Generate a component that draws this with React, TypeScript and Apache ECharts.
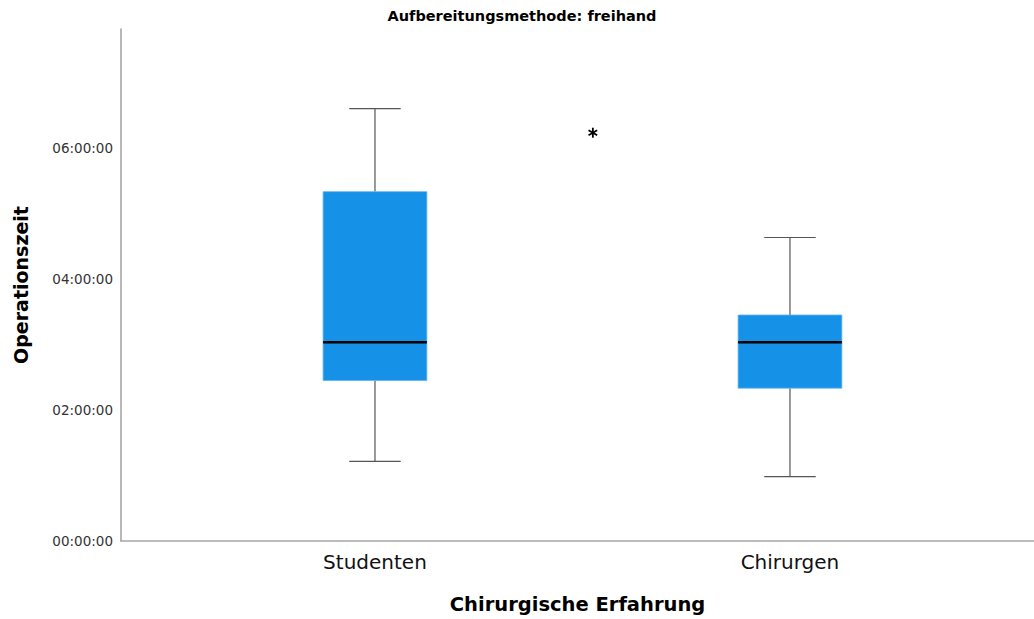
import React, { useEffect, useRef } from "react";
import * as echarts from "echarts";

// Groups along the x axis and their positions on the value scale
const categories = ["Studenten", "Chirurgen"];
const categoryPos = [0, 1];

// Box statistics per group, in seconds: [min, Q1, median, Q3, max]
const studentenStats = [4380, 8820, 10920, 19200, 23760];
const chirurgenStats = [3540, 8400, 10920, 12420, 16680];

// Extreme value (drawn as an asterisk): [x position, seconds]
const extremes = [[0.525, 22440]];

// Y-axis ticks every two hours
const yInterval = 7200;
const yMax = 28140;

const FONT = "'DejaVu Sans', 'Noto Sans', sans-serif";
const BOX_COLOR = "#1591E8";
const BOX_WIDTH = 0.25;
const CAP_WIDTH = 0.124;

function fmtTime(sec: number): string {
  const h = Math.floor(sec / 3600);
  const m = Math.floor((sec % 3600) / 60);
  const s = Math.floor(sec % 60);
  const p = (n: number) => String(n).padStart(2, "0");
  return `${p(h)}:${p(m)}:${p(s)}`;
}

export default function App() {
  const ref = useRef<HTMLDivElement>(null);

  useEffect(() => {
    if (!ref.current) return;
    const chart = echarts.init(ref.current, undefined, { renderer: "svg" });

    const boxData = [
      [categoryPos[0], ...studentenStats],
      [categoryPos[1], ...chirurgenStats],
    ];

    const whiskerStyle = { stroke: "#555555", lineWidth: 1.2 };

    chart.setOption({
      animation: false,
      backgroundColor: "#ffffff",
      graphic: [
        {
          type: "text",
          x: 522,
          y: 16,
          style: {
            text: "Aufbereitungsmethode: freihand",
            font: `bold 14.5px ${FONT}`,
            fill: "#000000",
            align: "center",
            verticalAlign: "middle",
          },
        },
      ],
      grid: { left: 121, right: 0, top: 29, bottom: 78 },
      xAxis: {
        type: "value",
        min: -0.612,
        max: 1.588,
        name: "Chirurgische Erfahrung",
        nameLocation: "middle",
        nameGap: 53,
        nameTextStyle: { fontFamily: FONT, fontSize: 19.5, fontWeight: "bold", color: "#000" },
        axisLine: { onZero: false, lineStyle: { color: "#a6a6a6", width: 1.6 } },
        axisTick: { show: false },
        splitLine: { show: false },
        axisLabel: {
          customValues: categoryPos,
          formatter: (v: number) => categories[Math.round(v)] ?? "",
          fontFamily: FONT,
          fontSize: 20,
          color: "#111",
          margin: 11,
        },
      },
      yAxis: {
        type: "value",
        min: 0,
        max: yMax,
        interval: yInterval,
        name: "Operationszeit",
        nameLocation: "middle",
        nameGap: 91,
        nameRotate: 90,
        nameTextStyle: { fontFamily: FONT, fontSize: 19, fontWeight: "bold", color: "#000" },
        axisLine: { show: true, onZero: false, lineStyle: { color: "#a6a6a6", width: 1.6 } },
        axisTick: { show: false },
        splitLine: { show: false },
        axisLabel: {
          formatter: (v: number) => fmtTime(v),
          showMaxLabel: false,
          fontFamily: FONT,
          fontSize: 13.5,
          color: "#333",
          margin: 8,
        },
      },
      series: [
        {
          type: "custom",
          name: "Operationszeit",
          data: boxData,
          encode: { x: 0, y: [1, 2, 3, 4, 5] },
          renderItem: (_params: any, api: any) => {
            const x = api.value(0);
            const lo = api.coord([x, api.value(1)]);
            const q1 = api.coord([x, api.value(2)]);
            const med = api.coord([x, api.value(3)]);
            const q3 = api.coord([x, api.value(4)]);
            const hi = api.coord([x, api.value(5)]);
            const boxW = api.size([BOX_WIDTH, 0])[0];
            const capW = api.size([CAP_WIDTH, 0])[0];
            const cx = lo[0];
            return {
              type: "group",
              children: [
                { type: "line", shape: { x1: cx, y1: q3[1], x2: cx, y2: hi[1] }, style: whiskerStyle },
                { type: "line", shape: { x1: cx, y1: q1[1], x2: cx, y2: lo[1] }, style: whiskerStyle },
                { type: "line", shape: { x1: cx - capW / 2, y1: hi[1], x2: cx + capW / 2, y2: hi[1] }, style: whiskerStyle },
                { type: "line", shape: { x1: cx - capW / 2, y1: lo[1], x2: cx + capW / 2, y2: lo[1] }, style: whiskerStyle },
                {
                  type: "rect",
                  shape: { x: cx - boxW / 2, y: q3[1], width: boxW, height: q1[1] - q3[1] },
                  style: { fill: BOX_COLOR, stroke: "#5FB2F0", lineWidth: 0.8 },
                },
                {
                  type: "line",
                  shape: { x1: cx - boxW / 2, y1: med[1], x2: cx + boxW / 2, y2: med[1] },
                  style: { stroke: "#000000", lineWidth: 2.6 },
                },
              ],
            };
          },
        },
        {
          type: "custom",
          name: "Extremwerte",
          data: extremes,
          encode: { x: 0, y: 1 },
          renderItem: (_params: any, api: any) => {
            const p = api.coord([api.value(0), api.value(1)]);
            const r = 5;
            const st = { stroke: "#000000", lineWidth: 1.8 };
            const spokes = [90, 30, 150].map((deg) => {
              const a = (deg * Math.PI) / 180;
              return {
                type: "line",
                shape: {
                  x1: p[0] - r * Math.cos(a),
                  y1: p[1] - r * Math.sin(a),
                  x2: p[0] + r * Math.cos(a),
                  y2: p[1] + r * Math.sin(a),
                },
                style: st,
              };
            });
            return { type: "group", children: spokes };
          },
        },
      ],
    });

    return () => chart.dispose();
  }, []);

  return (
    <div
      ref={ref}
      style={{ position: "fixed", left: 0, top: 0, width: 1034, height: 619, background: "#fff" }}
    />
  );
}
